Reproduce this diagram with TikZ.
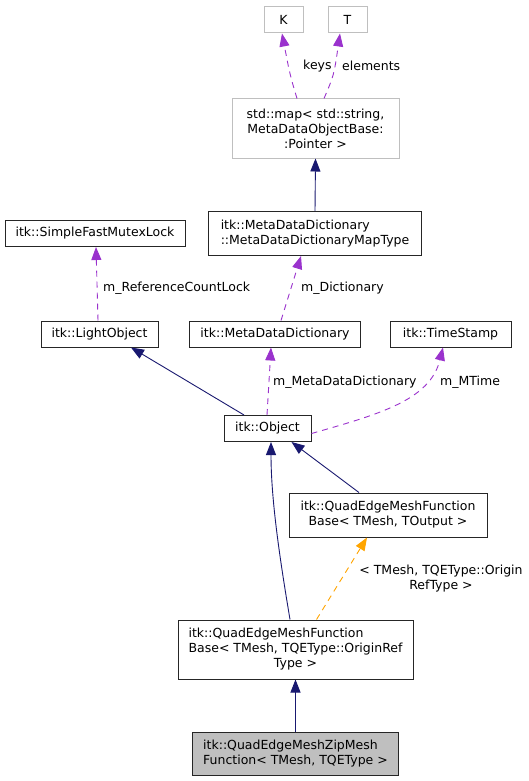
\documentclass[tikz,border=0pt]{standalone}
\usepackage{fontspec}
\setmainfont{DejaVu Sans}
\usetikzlibrary{arrows.meta}
\definecolor{navyedge}{HTML}{191970}
\definecolor{purpedge}{HTML}{9A32CD}
\definecolor{orangeedge}{HTML}{FFA500}
\definecolor{extgray}{HTML}{BFBFBF}
\begin{document}
\begin{tikzpicture}[x=1pt,y=-1pt,
  every node/.style={font=\fontsize{12.5}{15}\selectfont},
  cls/.style={draw=black!85, line width=1pt, fill=white, inner sep=2pt, align=center},
  ext/.style={cls, draw=extgray},
  hl/.style={cls, fill=extgray},
  lbl/.style={inner sep=0pt, anchor=west},
  inh/.style={draw=navyedge, line width=0.9pt, -{Triangle[length=13pt,width=10pt,fill=navyedge]}},
  use/.style={draw=purpedge, line width=0.9pt, dash pattern=on 6pt off 5pt, -{Triangle[length=13pt,width=10pt,fill=purpedge]}},
  tmpl/.style={draw=orangeedge, line width=0.9pt, dash pattern=on 6pt off 5pt, -{Triangle[length=13pt,width=10pt,fill=orangeedge]}}
]
\useasboundingbox (0,0) rectangle (528,781);
\fill[white] (0,0) rectangle (528,781);

\node[ext, minimum width=39pt, minimum height=26pt] (K) at (283.5,20) {K};
\node[ext, minimum width=39pt, minimum height=26pt] (T) at (347.5,20) {T};
\node[ext, minimum width=167pt, minimum height=59pt] (map) at (315.5,128.5) {std::map< std::string,\\ MetaDataObjectBase:\\:Pointer >};
\node[cls, align=left, minimum width=213pt, minimum height=44pt] (maptype) at (315,233.5) {itk::MetaDataDictionary\\::MetaDataDictionaryMapType};
\node[cls, minimum width=180pt, minimum height=26pt] (mutex) at (95,233.5) {itk::SimpleFastMutexLock};
\node[cls, minimum width=117pt, minimum height=26pt] (light) at (99.5,334) {itk::LightObject};
\node[cls, minimum width=171pt, minimum height=26pt] (mdd) at (275,334) {itk::MetaDataDictionary};
\node[cls, minimum width=121pt, minimum height=26pt] (ts) at (450.5,334) {itk::TimeStamp};
\node[cls, minimum width=87pt, minimum height=26pt] (obj) at (267.5,428.5) {itk::Object};
\node[cls, minimum width=198pt, minimum height=44pt] (qfo) at (388,515) {itk::QuadEdgeMeshFunction\\Base< TMesh, TOutput >};
\node[cls, minimum width=235pt, minimum height=59pt] (qfr) at (295.5,649.5) {\begin{tabular}{@{}l@{}}itk::QuadEdgeMeshFunction\\Base< TMesh, TQEType::OriginRef\\\multicolumn{1}{@{}c@{}}{Type >}\end{tabular}};
\node[hl, align=left, minimum width=206pt, minimum height=43pt] (zip) at (295.5,753.5) {itk::QuadEdgeMeshZipMesh\\Function< TMesh, TQEType >};

% edges
\draw[use] ([xshift=-18.5pt]map.north) .. controls (290,75) .. ([xshift=-1.5pt]K.south);
\node[lbl] (lkeys) at (303,66) {keys};
\draw[use] ([xshift=8.5pt]map.north) .. controls (334,75) .. ([xshift=-7.5pt]T.south);
\node[lbl] (lelem) at (342,66) {elements};
\draw[inh] (maptype.north) -- (map.south);
\draw[use] ([xshift=-1.5pt]light.north) -- ([xshift=1pt]mutex.south);
\node[lbl] (lref) at (103,288) {m\_ReferenceCountLock};
\draw[use] ([xshift=6pt]mdd.north) -- ([xshift=-14pt]maptype.south);
\node[lbl] (ldict) at (301,288) {m\_Dictionary};
\draw[inh] ([xshift=-23.5pt]obj.north) -- ([xshift=31.5pt]light.south);
\draw[use] ([xshift=-0.5pt]obj.north) -- ([xshift=-4pt]mdd.south);
\node[lbl] (lmdd) at (273,382) {m\_MetaDataDictionary};
\draw[use] ([yshift=-5pt]obj.east) .. controls (380,414) and (430,400) .. ([xshift=-7.5pt]ts.south);
\node[lbl] (lmt) at (440,382) {m\_MTime};
\draw[inh] ([xshift=-5.5pt]qfr.north) .. controls (280,560) and (271,500) .. ([xshift=3.5pt]obj.south);
\draw[inh] ([xshift=-29pt]qfo.north) -- ([xshift=24pt]obj.south);
\draw[tmpl] ([xshift=21pt]qfr.north) -- ([xshift=-21pt]qfo.south);
\node[inner sep=0pt, align=center] (ltmpl) at (441,578.5) {< TMesh, TQEType::Origin\\RefType >};
\draw[inh] (zip.north) -- (qfr.south);
\end{tikzpicture}
\end{document}
